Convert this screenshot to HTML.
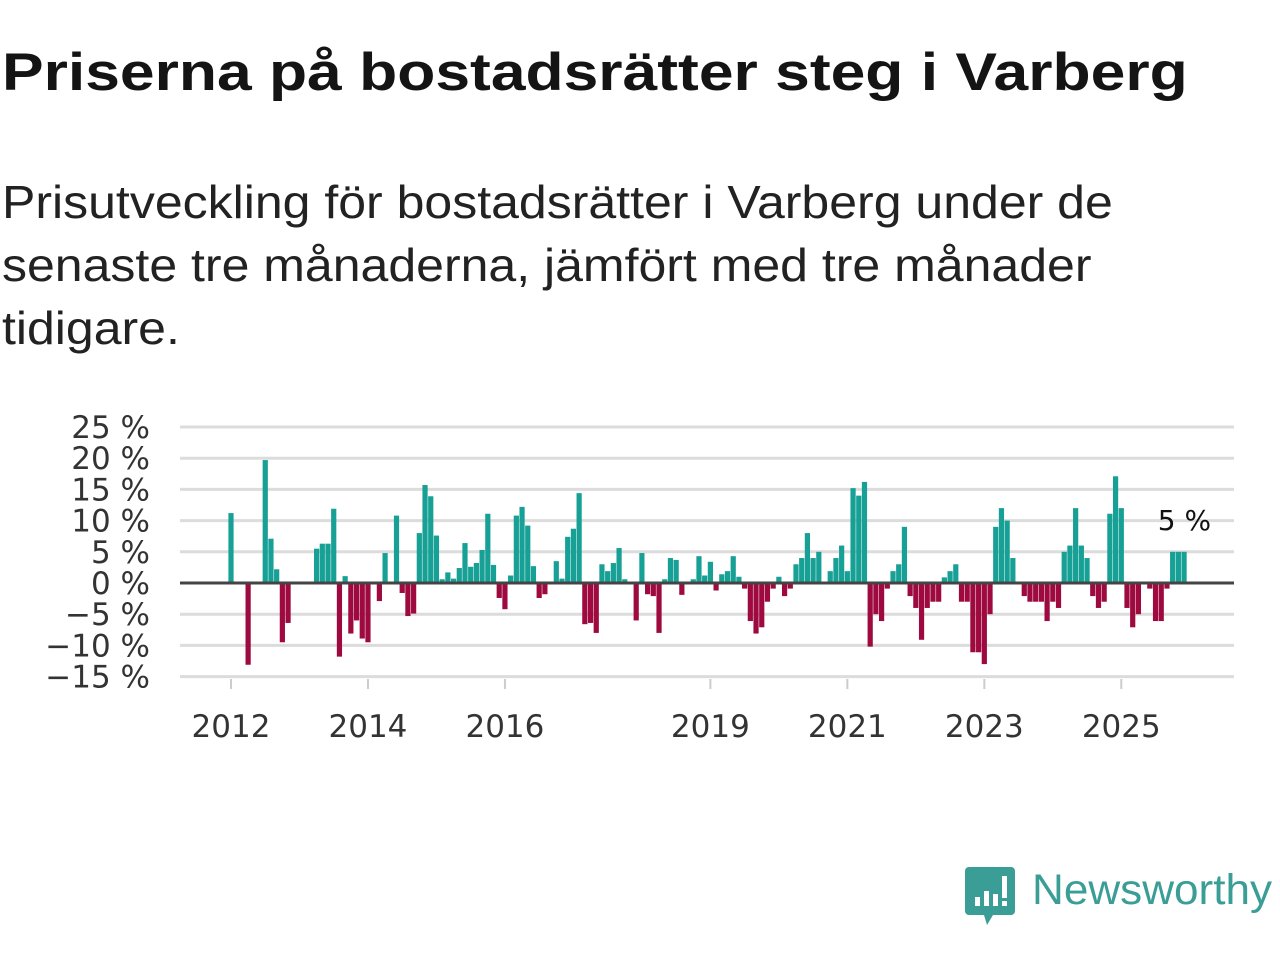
<!DOCTYPE html>
<html><head><meta charset="utf-8">
<style>
body{margin:0;width:1280px;height:960px;background:#fff;overflow:hidden;font-family:"Liberation Sans",sans-serif;}
#title{position:absolute;left:2px;top:42px;font-size:53px;font-weight:bold;color:#141414;margin:0;white-space:nowrap;transform:scaleX(1.177);transform-origin:0 0;}
#sub{position:absolute;left:2px;top:171px;font-size:46px;line-height:63px;color:#222;margin:0;white-space:nowrap;transform:scaleX(1.087);transform-origin:0 0;}
svg{position:absolute;left:0;top:0;}
</style></head><body>
<h1 id="title">Priserna på bostadsrätter steg i Varberg</h1>
<p id="sub">Prisutveckling för bostadsrätter i Varberg under de<br>senaste tre månaderna, jämfört med tre månader<br>tidigare.</p>
<svg id="chart" width="1280" height="960"></svg>
<script>
const startYear = 2012;
const values = [11.2,0,0,-13.1,0,0,19.7,7.1,2.2,-9.5,-6.4,0,0,0,0,5.5,6.3,6.3,11.9,-11.8,1.1,-8.1,-6.0,-8.9,-9.5,0,-2.9,4.8,0,10.8,-1.6,-5.3,-4.9,8.0,15.7,13.9,7.6,0.6,1.7,0.7,2.4,6.4,2.6,3.2,5.3,11.1,2.9,-2.4,-4.2,1.2,10.8,12.2,9.2,2.7,-2.4,-1.8,0,3.5,0.7,7.4,8.7,14.4,-6.6,-6.4,-8.0,3.0,1.9,3.2,5.6,0.6,0,-6.0,4.8,-1.8,-2.1,-8.0,0.6,4.0,3.7,-1.9,0,0.6,4.3,1.2,3.4,-1.2,1.4,1.9,4.3,1.0,-0.9,-6.1,-8.1,-7.1,-3.0,-0.9,1.0,-2.1,-0.9,3.0,4.0,8.0,4.0,5.0,0,1.9,4.0,6.0,1.9,15.2,14.0,16.2,-10.2,-5.0,-6.1,-0.9,1.9,3.0,9.0,-2.1,-4.0,-9.1,-4.0,-3.0,-3.0,0.9,1.9,3.0,-3.0,-3.0,-11.1,-11.1,-13.0,-5.0,9.0,12.0,10.0,4.0,0,-2.1,-3.0,-3.0,-3.0,-6.1,-3.0,-4.0,5.0,6.0,12.0,6.0,4.0,-2.1,-4.0,-3.0,11.1,17.1,12.0,-4.0,-7.1,-5.0,0,-0.9,-6.1,-6.1,-0.9,5.0,5.0,5.0];
const yTicks = [25,20,15,10,5,0,-5,-10,-15];
const xTickYears = [2012,2014,2016,2019,2021,2023,2025];
const lastLabel = "5 %";

const NS="http://www.w3.org/2000/svg";
const svg=document.getElementById('chart');
const x=i=>231+i*5.707;
const y=v=>583-v*6.24;
function el(t,a){const e=document.createElementNS(NS,t);for(const k in a)e.setAttribute(k,a[k]);svg.appendChild(e);return e;}
yTicks.forEach(t=>{
  const g=el('line',{x1:180,x2:1234,y1:y(t),y2:y(t),stroke:'#dcdcdc','stroke-width':3});
  
  
  const tx=el('text',{x:150,y:y(t)+11,'text-anchor':'end','font-size':31,fill:'#333','font-family':'DejaVu Sans, sans-serif'});
  tx.textContent=(t<0?'\u2212'+(-t):t)+' %';
  
  
});
xTickYears.forEach(yr=>{
  const i=(yr-startYear)*12;
  const tk=el('line',{x1:x(i),x2:x(i),y1:679,y2:689,stroke:'#ccc','stroke-width':2});
  
  
  const tx=el('text',{x:x(i),y:737,'text-anchor':'middle','font-size':31,fill:'#333','font-family':'DejaVu Sans, sans-serif'});
  tx.textContent=yr;
  
  
});
values.forEach((v,i)=>{
  if(v===0)return;
  const r=el('rect',{x:x(i)-2.6,width:5.2,y:Math.min(y(v),y(0)),height:Math.abs(y(v)-y(0)),fill:v>0?'#17a095':'#9e0a3f'});
  
  
});
const z=el('line',{x1:180,x2:1234,y1:y(0),y2:y(0),stroke:'#444','stroke-width':3});


const ll=el('text',{x:x(values.length-1)+27,y:y(values[values.length-1])-22,'text-anchor':'end','font-size':28,fill:'#111','font-family':'DejaVu Sans, sans-serif'});
ll.textContent=lastLabel;


</script>
<svg width="1280" height="960" style="pointer-events:none">
  <path d="M969 867 h42 a4 4 0 0 1 4 4 v40 a4 4 0 0 1 -4 4 h-18 l-6 10 l-3 -10 h-15 a4 4 0 0 1 -4 -4 v-40 a4 4 0 0 1 4 -4z" fill="#3a9e96"/>
  <rect x="975" y="897" width="5" height="9" fill="#fff"/>
  <rect x="984" y="891" width="5" height="15" fill="#fff"/>
  <rect x="993" y="894" width="5" height="12" fill="#fff"/>
  <rect x="1002" y="876" width="5" height="22" fill="#fff"/>
  <rect x="1002" y="901" width="5" height="5" fill="#fff"/>
  <text x="1032" y="904" font-size="43" fill="#3a9e96" font-family="Liberation Sans, sans-serif" textLength="240" lengthAdjust="spacingAndGlyphs">Newsworthy</text>
</svg>
</body></html>
